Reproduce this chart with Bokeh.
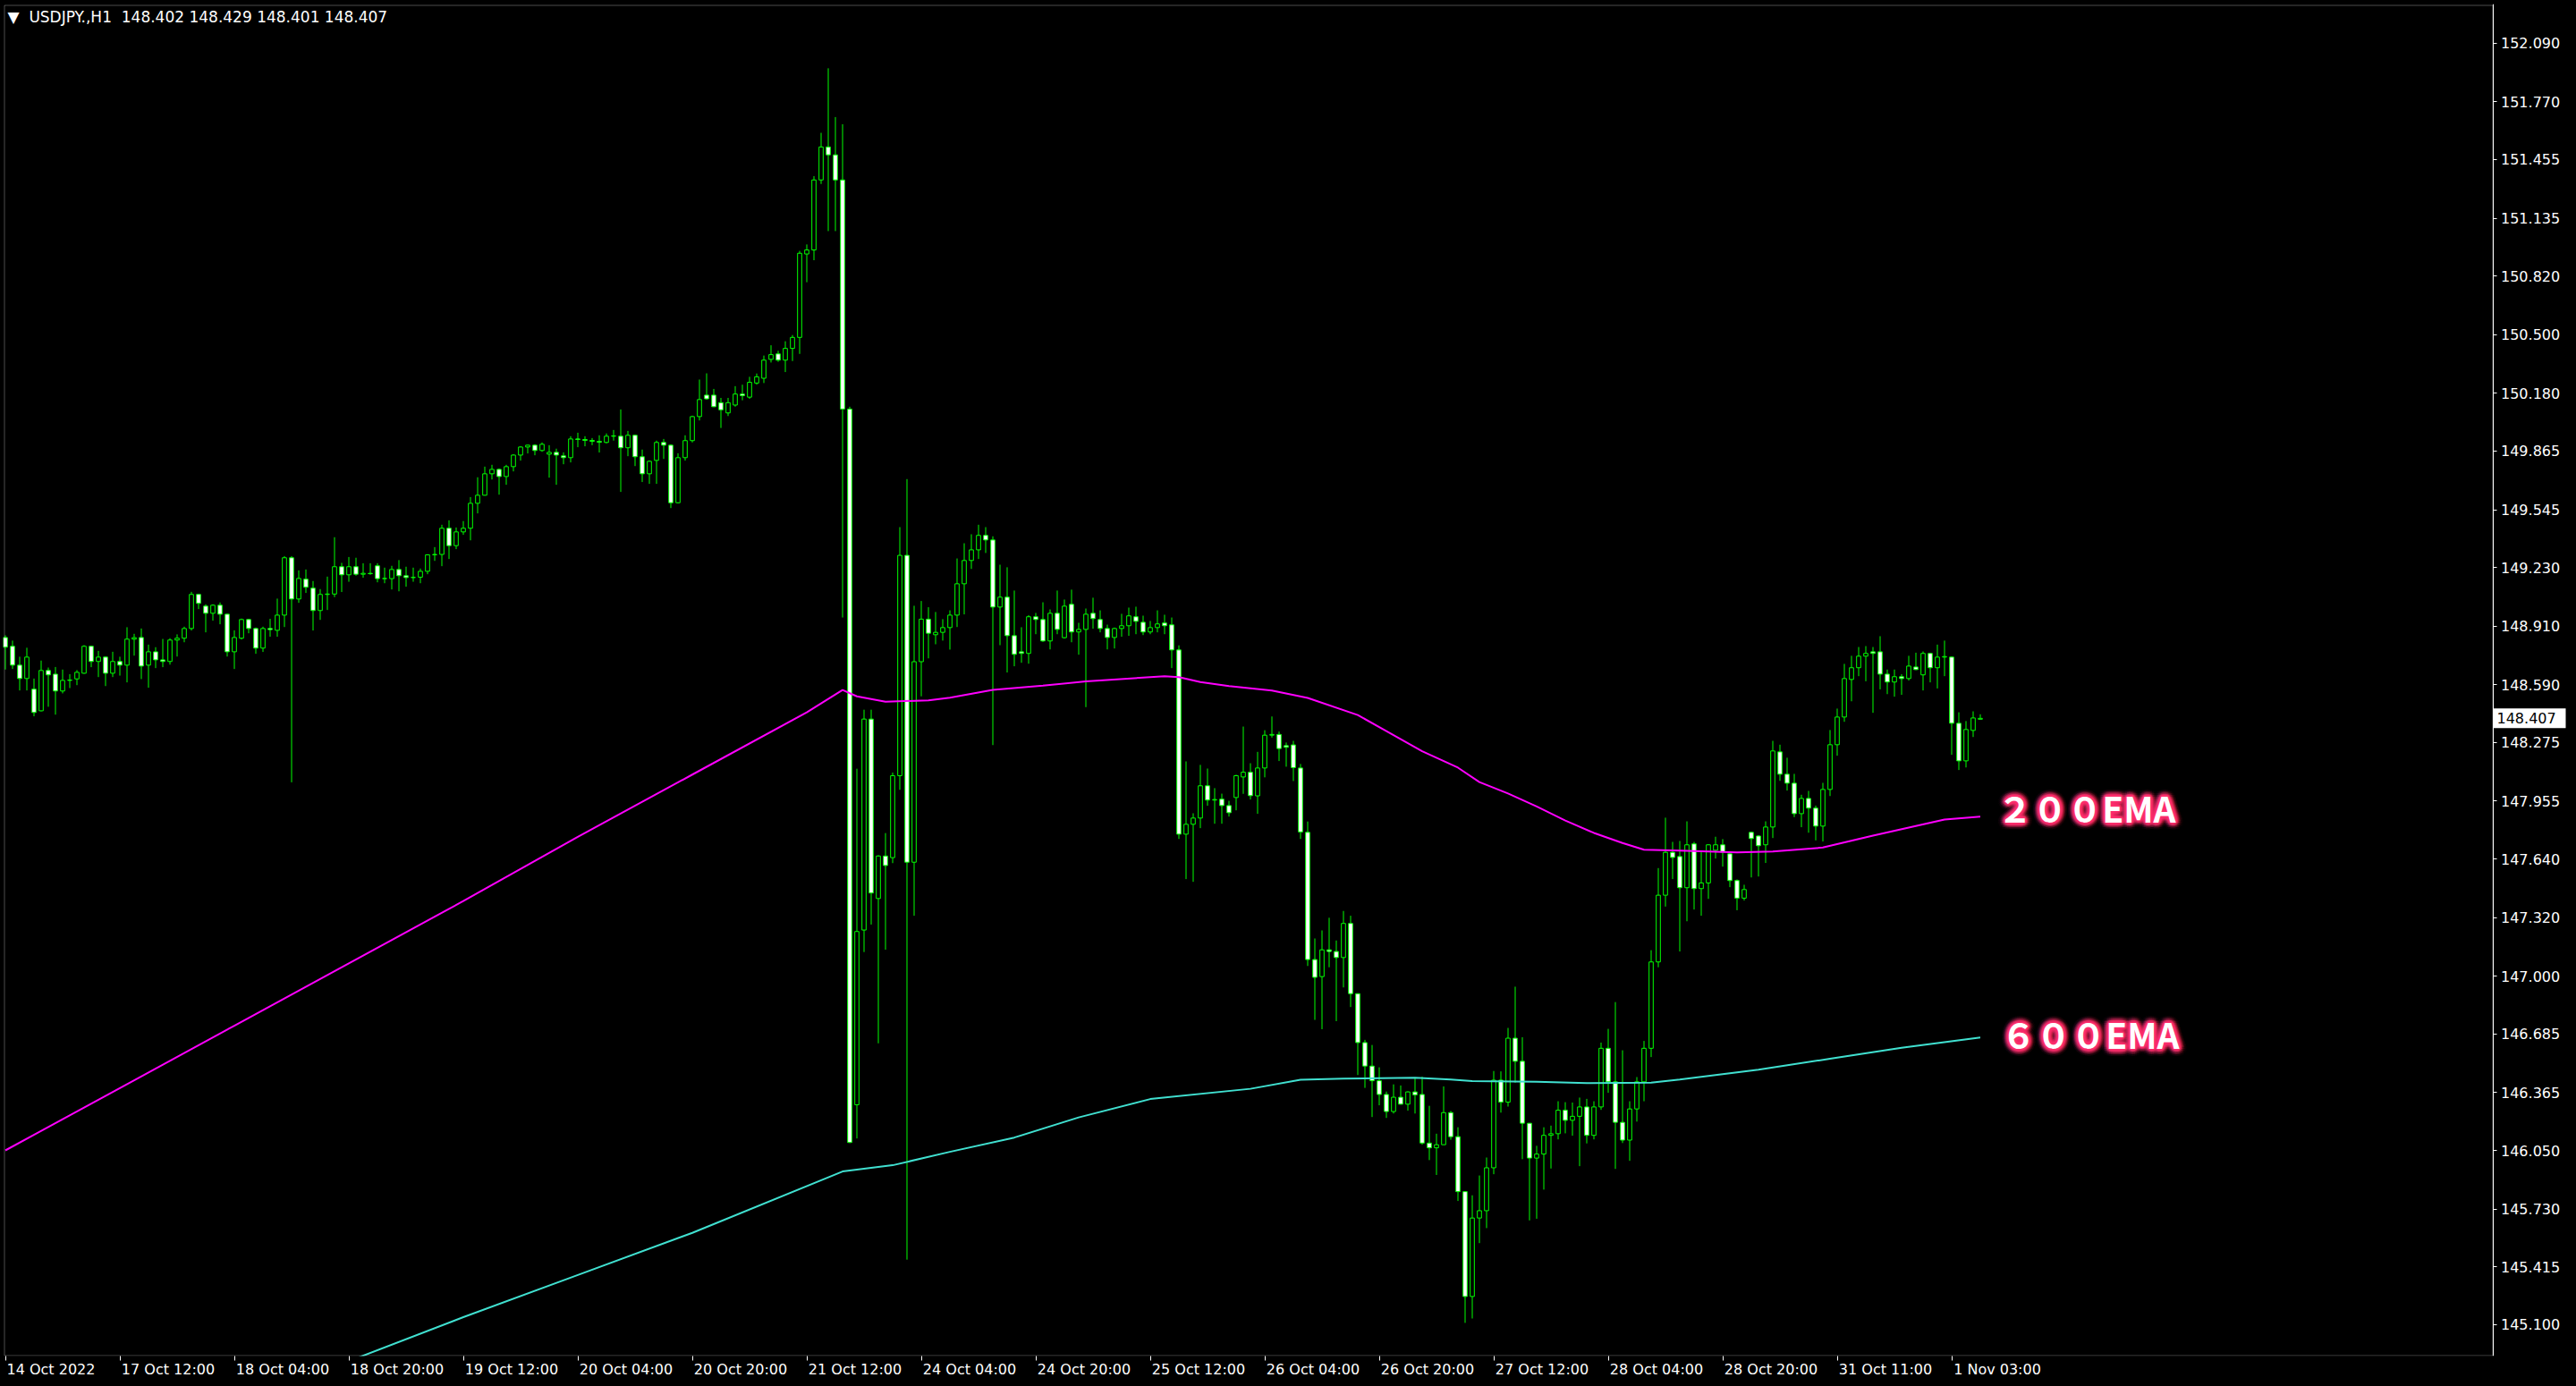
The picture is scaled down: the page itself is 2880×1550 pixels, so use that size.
import numpy as np
from bokeh.plotting import figure
from bokeh.models import (ColumnDataSource, FixedTicker, PrintfTickFormatter, Range1d, Label,
                          BoxAnnotation)
from bokeh.core.properties import value
from bokeh.embed import file_html
from bokeh.resources import INLINE

# ---------------- data ----------------
header_text = "▼\u00a0\u00a0USDJPY.,H1\u00a0\u00a0148.402 148.429 148.401 148.407"
last_price = 148.407

opens = [
    148.848,148.800,148.697,148.624,148.566,148.448,148.668,148.648,148.556,148.614,
    148.622,148.653,148.800,148.717,148.741,148.653,148.717,148.697,148.839,148.848,
    148.697,148.770,148.726,148.717,148.834,148.844,148.897,149.083,149.019,148.980,
    149.024,148.975,148.770,148.844,148.946,148.897,148.790,148.897,148.887,148.970,
    149.283,149.058,149.166,149.117,148.995,149.083,149.085,149.234,149.190,149.234,
    149.193,149.198,149.239,149.169,149.169,149.219,149.185,149.175,149.177,149.209,
    149.299,149.301,149.444,149.349,149.424,149.444,149.580,149.624,149.741,149.765,
    149.726,149.780,149.843,149.887,149.897,149.868,149.848,149.858,149.839,149.829,
    149.931,149.928,149.923,149.918,149.912,149.946,149.946,149.883,149.951,149.834,
    149.741,149.814,149.912,149.897,149.583,149.829,149.922,150.053,150.170,150.170,
    150.129,150.073,150.116,150.176,150.159,150.236,150.262,150.365,150.395,150.361,
    150.425,150.485,150.940,150.962,151.344,151.524,151.481,151.344,150.094,146.299,
    147.252,148.403,147.424,147.656,147.647,148.094,149.296,147.622,148.716,148.948,
    148.863,148.876,148.902,148.970,149.141,149.268,149.326,149.405,149.380,149.014,
    149.068,148.858,148.770,148.761,148.961,148.946,148.829,148.980,148.847,149.029,
    148.878,148.892,148.980,148.946,148.897,148.848,148.897,148.912,148.961,148.931,
    148.878,148.902,148.927,148.917,148.780,147.775,147.829,147.863,148.039,147.961,
    147.966,147.931,147.975,148.087,148.113,147.984,148.136,148.315,148.319,148.258,
    148.262,148.136,147.785,147.091,146.998,147.144,147.135,147.102,147.288,146.905,
    146.638,146.510,146.430,146.355,146.262,146.340,146.302,146.369,146.355,146.090,
    146.064,146.081,146.256,146.125,145.825,145.253,145.681,145.721,145.955,146.433,
    146.313,146.662,146.536,146.198,146.008,146.030,146.132,146.141,146.269,146.214,
    146.236,146.287,146.132,146.287,146.607,146.424,146.203,146.106,146.276,146.424,
    146.607,147.078,147.442,147.676,147.653,147.483,147.722,147.478,147.509,147.687,
    147.717,147.668,147.522,147.426,147.785,147.765,147.717,147.814,148.224,148.102,
    148.053,147.887,147.970,147.917,147.819,148.019,148.263,148.414,148.619,148.683,
    148.746,148.770,148.770,148.648,148.605,148.634,148.624,148.687,148.644,148.761,
    148.683,148.741,148.741,148.380,148.175,148.341,148.402,
]
highs = [
    148.860,148.831,148.743,148.792,148.624,148.722,148.684,148.687,148.673,148.648,
    148.670,148.806,148.803,148.775,148.744,148.770,148.743,148.904,148.868,148.897,
    148.809,148.795,148.840,148.844,148.865,148.907,149.097,149.086,149.029,149.029,
    149.039,148.978,148.887,148.951,148.950,148.902,148.907,148.950,149.060,149.292,
    149.292,149.214,149.219,149.156,149.112,149.180,149.395,149.255,149.287,149.283,
    149.253,149.253,149.253,149.229,149.239,149.270,149.234,149.229,149.224,149.302,
    149.341,149.463,149.487,149.448,149.483,149.614,149.722,149.780,149.790,149.770,
    149.790,149.848,149.892,149.899,149.902,149.912,149.897,149.878,149.858,149.946,
    149.965,149.946,149.936,149.951,149.961,149.980,150.092,149.975,149.954,149.873,
    149.814,149.922,149.931,149.902,149.853,149.951,150.058,150.255,150.289,150.204,
    150.155,150.155,150.219,150.227,150.270,150.288,150.386,150.442,150.412,150.464,
    150.498,150.957,150.992,151.365,151.601,151.953,151.687,151.648,150.107,148.132,
    148.454,148.454,147.660,147.781,148.111,149.450,149.712,149.021,149.047,149.013,
    148.987,148.948,148.996,149.279,149.362,149.411,149.463,149.450,149.400,149.245,
    149.231,149.104,148.904,148.970,148.982,149.040,149.001,149.104,149.055,149.109,
    148.928,149.006,149.065,148.996,148.918,148.902,148.977,149.011,149.016,148.967,
    148.938,148.996,148.972,148.957,148.805,148.172,147.889,148.153,148.133,148.026,
    147.996,147.957,148.099,148.362,148.162,148.224,148.342,148.417,148.335,148.275,
    148.284,148.158,147.844,147.206,147.250,147.319,147.195,147.356,147.330,146.905,
    146.653,146.625,146.503,146.371,146.410,146.404,146.372,146.446,146.452,146.293,
    146.141,146.399,146.265,146.176,145.825,145.805,145.913,146.011,146.483,146.481,
    146.718,146.943,146.667,146.198,146.075,146.176,146.185,146.318,146.313,146.311,
    146.338,146.331,146.318,146.638,146.713,146.859,146.596,146.318,146.450,146.647,
    147.142,147.590,147.865,147.733,147.738,147.845,147.733,147.684,147.720,147.761,
    147.748,147.672,147.528,147.499,147.788,147.770,147.845,148.284,148.263,148.192,
    148.104,147.990,148.011,147.931,148.055,148.343,148.460,148.704,148.748,148.796,
    148.801,148.796,148.855,148.673,148.673,148.648,148.748,148.765,148.772,148.764,
    148.809,148.831,148.744,148.440,148.392,148.445,148.429,
]
lows = [
    148.673,148.676,148.559,148.559,148.418,148.445,148.470,148.427,148.543,148.572,
    148.588,148.650,148.686,148.632,148.583,148.632,148.640,148.603,148.749,148.621,
    148.574,148.681,148.686,148.700,148.744,148.822,148.886,149.003,148.876,148.940,
    148.920,148.744,148.676,148.837,148.871,148.759,148.769,148.852,148.852,148.905,
    148.058,149.037,149.091,148.886,148.944,148.998,149.068,149.096,149.152,149.185,
    149.174,149.190,149.149,149.144,149.110,149.100,149.125,149.152,149.144,149.193,
    149.266,149.237,149.276,149.330,149.408,149.378,149.525,149.622,149.710,149.627,
    149.681,149.754,149.813,149.852,149.842,149.861,149.720,149.681,149.793,149.803,
    149.886,149.891,149.897,149.857,149.907,149.922,149.642,149.837,149.783,149.696,
    149.686,149.686,149.822,149.554,149.580,149.813,149.912,150.032,150.146,150.105,
    149.991,150.056,150.107,150.142,150.150,150.227,150.236,150.348,150.352,150.296,
    150.356,150.395,150.786,150.906,151.322,151.065,151.065,148.957,146.090,146.115,
    147.132,147.282,146.634,147.145,147.617,148.017,145.454,147.330,148.527,148.734,
    148.811,148.831,148.782,148.905,148.974,149.222,149.276,149.309,148.261,148.806,
    148.657,148.691,148.710,148.705,148.866,148.824,148.783,148.866,148.842,148.822,
    148.754,148.468,148.896,148.876,148.783,148.788,148.852,148.857,148.866,148.861,
    148.866,148.876,148.866,148.681,147.749,147.530,147.515,147.808,147.930,147.832,
    147.832,147.871,147.905,147.995,147.964,147.886,148.085,148.302,148.174,148.143,
    148.065,147.749,147.056,146.762,146.711,147.049,146.755,146.939,146.832,146.461,
    146.391,146.232,146.296,146.227,146.251,146.300,146.267,146.251,146.081,145.997,
    145.916,146.081,146.108,145.774,145.109,145.133,145.544,145.626,145.920,146.256,
    146.289,146.419,146.002,145.668,145.677,145.836,145.951,146.110,146.143,146.130,
    145.964,146.088,146.110,146.271,146.364,145.949,146.090,145.993,146.207,146.318,
    146.559,147.049,147.380,147.530,147.135,147.300,147.364,147.330,147.422,147.642,
    147.598,147.486,147.360,147.413,147.539,147.544,147.618,147.754,148.066,148.013,
    147.868,147.813,147.783,147.741,147.735,147.983,148.203,148.388,148.500,148.637,
    148.609,148.437,148.565,148.539,148.525,148.535,148.613,148.670,148.559,148.603,
    148.570,148.637,148.208,148.125,148.139,148.305,148.401,
]
closes = [
    148.795,148.697,148.624,148.741,148.439,148.668,148.644,148.556,148.614,148.616,
    148.658,148.800,148.717,148.741,148.653,148.717,148.697,148.839,148.847,148.692,
    148.770,148.726,148.717,148.834,148.844,148.897,149.083,149.034,148.980,149.024,
    148.975,148.770,148.848,148.946,148.897,148.790,148.897,148.891,148.970,149.283,
    149.058,149.170,149.122,148.995,149.083,149.085,149.234,149.190,149.234,149.193,
    149.198,149.196,149.169,149.170,149.219,149.185,149.175,149.176,149.209,149.299,
    149.301,149.444,149.349,149.424,149.444,149.580,149.624,149.741,149.765,149.726,
    149.780,149.843,149.887,149.897,149.868,149.902,149.858,149.843,149.829,149.931,
    149.928,149.923,149.918,149.913,149.946,149.948,149.883,149.951,149.834,149.741,
    149.809,149.912,149.897,149.583,149.829,149.922,150.053,150.146,150.150,150.107,
    150.090,150.129,150.176,150.167,150.240,150.270,150.361,150.391,150.361,150.425,
    150.485,150.944,150.962,151.344,151.524,151.481,151.344,150.094,146.093,147.244,
    148.403,147.454,147.656,147.604,148.094,149.296,147.622,148.716,148.948,148.871,
    148.876,148.902,148.970,149.141,149.268,149.326,149.405,149.380,149.014,149.068,
    148.858,148.756,148.761,148.961,148.946,148.829,148.980,148.892,149.019,148.878,
    148.892,148.975,148.951,148.897,148.848,148.897,148.912,148.966,148.936,148.878,
    148.902,148.922,148.912,148.780,147.775,147.829,147.863,148.039,147.961,147.964,
    147.931,147.892,148.094,148.113,147.985,148.136,148.315,148.319,148.242,148.249,
    148.138,147.787,147.091,146.994,147.144,147.135,147.102,147.288,146.905,146.638,
    146.510,146.430,146.355,146.262,146.340,146.302,146.369,146.353,146.090,146.064,
    146.081,146.256,146.125,145.825,145.253,145.681,145.721,145.955,146.433,146.313,
    146.662,146.536,146.198,146.008,146.030,146.132,146.141,146.269,146.214,146.236,
    146.287,146.132,146.287,146.607,146.424,146.203,146.106,146.276,146.424,146.607,
    147.078,147.442,147.676,147.648,147.483,147.717,147.478,147.509,147.717,147.717,
    147.676,147.522,147.426,147.473,147.751,147.712,147.814,148.229,148.102,148.053,
    147.887,147.970,147.917,147.819,148.019,148.263,148.414,148.624,148.683,148.746,
    148.761,148.761,148.648,148.605,148.634,148.624,148.692,148.673,148.761,148.683,
    148.741,148.744,148.380,148.175,148.346,148.409,148.407,
]

time_tick_bars = [0, 16, 32, 48, 64, 80, 96, 112, 128, 144, 160, 176, 192, 208, 224, 240, 256, 272]
time_tick_labels = ["14 Oct 2022", "17 Oct 12:00", "18 Oct 04:00", "18 Oct 20:00", "19 Oct 12:00",
                    "20 Oct 04:00", "20 Oct 20:00", "21 Oct 12:00", "24 Oct 04:00", "24 Oct 20:00",
                    "25 Oct 12:00", "26 Oct 04:00", "26 Oct 20:00", "27 Oct 12:00", "28 Oct 04:00",
                    "28 Oct 20:00", "31 Oct 11:00", "1 Nov 03:00"]

price_ticks = [145.100, 145.415, 145.730, 146.050, 146.365, 146.685, 147.000, 147.320, 147.640,
               147.955, 148.275, 148.590, 148.910, 149.230, 149.545, 149.865, 150.180, 150.500,
               150.820, 151.135, 151.455, 151.770, 152.090]

ema200_bars = [0, 16, 32, 48, 64, 80, 96, 112, 117, 119, 123, 129, 132, 138, 145, 151, 162, 164,
               167, 171, 177, 182, 189, 193, 198, 203, 206, 210, 214, 218, 222, 226, 229, 234,
               242, 247, 254, 261, 271, 276]
ema200_vals = [146.05, 146.39, 146.73, 147.07, 147.41, 147.76, 148.10, 148.44, 148.562, 148.527,
               148.498, 148.505, 148.519, 148.562, 148.585, 148.608, 148.637, 148.632, 148.605,
               148.583, 148.559, 148.518, 148.425, 148.337, 148.227, 148.138, 148.059, 147.997,
               147.926, 147.849, 147.782, 147.727, 147.690, 147.685, 147.676, 147.681, 147.702,
               147.767, 147.855, 147.871]

ema600_bars = [40, 48, 64, 80, 96, 117, 124, 132, 141, 150, 160, 174, 181, 187, 197, 202, 205,
               214, 221, 230, 234, 245, 255, 265, 276]
ema600_vals = [144.78, 144.90, 145.14, 145.37, 145.60, 145.935, 145.969, 146.042, 146.12, 146.23,
               146.33, 146.386, 146.435, 146.441, 146.446, 146.437, 146.428, 146.424, 146.417,
               146.419, 146.437, 146.49, 146.55, 146.61, 146.666]

ema_label_texts = ["２００EMA", "６００EMA"]
ema_label_bar = [278.4, 278.9]
ema_label_price = [147.922, 146.686]

# ---------------- layout calibration (page pixels <-> bar index / price) ----------------
W, H = 2880, 1550
BAR0_PX, BAR_STEP = 5.5, 8.0          # centre of bar 0 and bar spacing in page pixels
P_REF, P_REF_PY, PX_PER_YEN = 152.09, 47.8, 205.0


def bar_at(px):
    return (px - BAR0_PX) / BAR_STEP


def price_at(py):
    return P_REF - (py - P_REF_PY) / PX_PER_YEN


FR_L, FR_T, FR_B = 3, 4, 1516          # plotting frame (extends under the price scale)
BOX_L, BOX_R, BOX_T, BOX_B = 4.5, 2786.5, 5.5, 1515.5   # visible chart border
BULL_GREEN = "#00FF00"

n = len(closes)
assert len(opens) == n and len(highs) == n and len(lows) == n
idx = np.arange(n)
o = np.array(opens); c = np.array(closes)
src = ColumnDataSource(dict(
    x=idx, high=highs, low=lows,
    top=np.maximum(o, c), bottom=np.minimum(o, c),
    fill=np.where(c < o, "white", "black"),
))

p = figure(width=W, height=H, output_backend="svg", toolbar_location=None,
           x_range=Range1d(bar_at(FR_L), bar_at(W)), y_range=Range1d(price_at(FR_B), price_at(FR_T)),
           y_axis_location="right",
           min_border_left=FR_L, min_border_top=FR_T, min_border_right=0, min_border_bottom=H - FR_B,
           background_fill_color="black", border_fill_color="black",
           outline_line_color=None)
p.grid.visible = False

# chart border
p.add_layout(BoxAnnotation(left=bar_at(BOX_L), right=bar_at(BOX_R), top=price_at(BOX_T),
                           bottom=price_at(BOX_B), fill_alpha=0, line_color="white", line_width=1))

# candles
p.segment(x0="x", y0="low", x1="x", y1="high", source=src, line_color=BULL_GREEN, line_width=1)
p.vbar(x="x", width=0.58, top="top", bottom="bottom", source=src,
       fill_color="fill", line_color=BULL_GREEN, line_width=1)

# EMAs
p.line(ema200_bars, ema200_vals, line_color="#FF00FF", line_width=2)
p.line(ema600_bars, ema600_vals, line_color="#40E0D0", line_width=2)

# price scale: right axis pinned at the chart border
ya = p.yaxis[0]
ya.fixed_location = bar_at(BOX_R)
ya.ticker = FixedTicker(ticks=price_ticks)
ya.formatter = PrintfTickFormatter(format="%.3f")
ya.axis_line_color = "white"
ya.major_tick_line_color = "white"
ya.major_tick_out = 4
ya.major_tick_in = 0
ya.minor_tick_line_color = None
ya.major_label_standoff = 5
ya.major_label_text_color = "white"
ya.major_label_text_font = "DejaVu Sans"
ya.major_label_text_font_size = "16px"

# time scale: labels left-aligned at the tick (MT4 style)
cw = {d: 0.636 for d in "0123456789"}
cw.update({" ": 0.318, ":": 0.337, "O": 0.787, "c": 0.55, "t": 0.392, "N": 0.748, "o": 0.612, "v": 0.592})
centers = []
overrides = {}
for b, lab in zip(time_tick_bars, time_tick_labels):
    wpx = sum(cw.get(ch, 0.6) for ch in lab) * 16
    off = round(((wpx / 2 + 2) / 8) * 8) / 8
    cpos = b + off
    centers.append(cpos)
    overrides[cpos] = lab
xa = p.xaxis[0]
xa.ticker = FixedTicker(ticks=centers, minor_ticks=time_tick_bars)
xa.major_label_overrides = overrides
xa.axis_line_color = None
xa.major_tick_line_color = None
xa.major_tick_out = 0
xa.major_tick_in = 0
xa.minor_tick_line_color = "white"
xa.minor_tick_out = 5
xa.minor_tick_in = 0
xa.major_label_standoff = 0
xa.major_label_text_color = "white"
xa.major_label_text_font = "DejaVu Sans"
xa.major_label_text_font_size = "16px"

# header (inside the chart frame)
p.add_layout(Label(x=bar_at(8), y=price_at(18), text=header_text, text_color="white",
                   text_font="DejaVu Sans", text_font_size="17px",
                   text_baseline="middle", text_align="left"))

# current price box on the price scale
p.rect(x=[bar_at(2827.5)], y=[last_price], width=81, height=22, width_units="screen",
       height_units="screen", fill_color="white", line_color=None)
p.text(x=[bar_at(2791)], y=[last_price], text=[f"{last_price:.3f}"], text_color="black",
       text_font=value("DejaVu Sans"), text_font_size="16px",
       text_baseline="middle", text_align="left")

# EMA labels with pink glow
g = dict(x=[], y=[], text=[], dx=[], dy=[], a=[])
for r, a, k in [(8, 0.05, 24), (6, 0.09, 20), (4.5, 0.14, 16), (3, 0.25, 16), (1.5, 0.5, 12)]:
    for j in range(k):
        ang = 2 * np.pi * j / k
        for lx, ly, lt in zip(ema_label_bar, ema_label_price, ema_label_texts):
            g["x"].append(lx); g["y"].append(ly); g["text"].append(lt)
            g["dx"].append(r * np.cos(ang)); g["dy"].append(r * np.sin(ang)); g["a"].append(a)
p.text(x="x", y="y", text="text", x_offset="dx", y_offset="dy", text_alpha="a",
       source=ColumnDataSource(g), text_color="#FF2F6E",
       text_font=value("Noto Sans CJK JP"), text_font_size="39px", text_font_style="bold",
       text_baseline="middle", text_align="left")
p.text(x=ema_label_bar, y=ema_label_price, text=ema_label_texts, text_color="white",
       text_font=value("Noto Sans CJK JP"), text_font_size="39px", text_font_style="bold",
       text_baseline="middle", text_align="left")

html = file_html(p, INLINE, title="USDJPY.,H1")
html = html.replace("</head>", "<style>html,body{background:#000000;}</style></head>")
open("out.html", "w").write(html)
